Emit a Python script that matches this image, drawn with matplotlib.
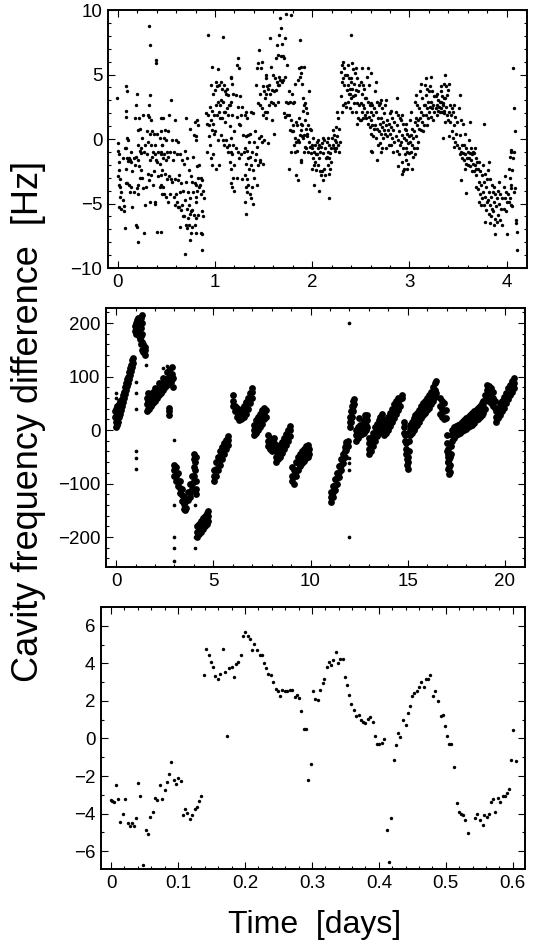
import numpy as np
import matplotlib
matplotlib.use("Agg")
import matplotlib.pyplot as plt
from matplotlib.ticker import MultipleLocator, FuncFormatter

# ---- top panel: 4 days, values in Hz ----
day4 = [
    (-0.01,3.2),(0.00,-0.3),(0.00,-0.9),(0.01,-1.2),(0.01,-1.8),(0.01,-2.4),(0.00,-2.9),(0.02,-3.1),(0.01,-3.6),(0.02,-3.7),(0.03,-4.1),(0.02,-4.5),(0.01,-5.3),(0.03,-5.4),
    (0.05,-4.7),(0.06,-5.2),(0.06,-5.6),(0.07,-6.9),(0.05,-1.5),(0.07,-0.7),
    (0.08,4.1),(0.10,3.7),(0.09,2.2),(0.08,1.7),(0.10,0.1),(0.11,-0.1),(0.09,-0.7),(0.10,-1.5),(0.11,-1.7),(0.09,-2.3),(0.08,-3.4),(0.10,-3.4),
    (0.12,-1.5),(0.13,-1.6),(0.14,-1.8),(0.15,-2.5),(0.12,-3.6),(0.14,-3.7),(0.13,-4.1),(0.15,-5.3),(0.14,-1.0),
    (0.20,3.5),(0.19,2.6),(0.18,1.6),(0.21,0.7),(0.17,-1.5),(0.19,-1.4),(0.21,-1.6),(0.18,-2.0),(0.20,-3.8),(0.17,-4.1),(0.21,-4.3),(0.19,-6.7),(0.20,-6.8),(0.21,-8.0),
    (0.22,1.6),(0.23,0.75),(0.21,-0.5),(0.24,-0.7),(0.23,-0.9),(0.22,-2.1),(0.24,-2.4),(0.23,-3.0),(0.21,-3.6),
    (0.26,1.9),(0.25,0.05),(0.28,-0.5),(0.27,-1.0),(0.25,-3.0),(0.29,-3.7),(0.26,-3.8),(0.28,-5.1),(0.27,-7.3),(0.24,-1.1),
    (0.32,8.8),(0.33,7.3),(0.33,3.4),(0.32,2.6),(0.31,1.9),(0.32,1.7),(0.34,1.5),(0.30,0.6),(0.33,0.4),(0.31,-0.2),(0.34,-0.5),(0.30,-1.2),(0.33,-1.6),(0.31,-2.7),(0.34,-2.8),(0.32,-3.2),(0.33,-4.9),
    (0.35,0.6),(0.37,0.4),(0.36,-1.0),(0.38,-1.2),(0.35,-1.4),(0.37,-2.5),(0.36,-3.6),(0.38,-5.0),
    (0.39,6.1),(0.39,5.9),(0.40,0.4),(0.38,-0.5),(0.41,-1.0),(0.39,-1.6),(0.40,-1.8),(0.41,-2.9),(0.38,-4.9),(0.40,-7.2),
    (0.44,1.6),(0.45,0.6),(0.43,0.05),(0.46,-0.5),(0.44,-1.0),(0.45,-1.2),(0.43,-1.9),(0.46,-2.4),(0.44,-2.8),(0.45,-3.6),(0.43,-3.7),(0.46,-4.3),(0.44,-7.2),
    (0.47,1.6),(0.49,0.7),(0.48,0.05),(0.50,-0.1),(0.46,-0.5),(0.51,-1.0),(0.48,-1.2),(0.47,-1.5),(0.50,-1.6),(0.49,-2.7),(0.51,-3.1),(0.47,-3.7),(0.48,-4.3),(0.50,-4.5),
    (0.55,3.0),(0.53,1.9),(0.52,0.6),(0.56,-0.1),(0.54,-1.0),(0.52,-1.4),(0.57,-1.6),(0.53,-2.9),(0.55,-3.1),(0.56,-3.3),(0.54,-4.3),(0.52,-4.9),
    (0.59,1.5),(0.60,-0.1),(0.62,-0.2),(0.58,-1.0),(0.61,-1.2),(0.59,-3.1),(0.62,-3.2),(0.60,-4.3),(0.58,-4.5),(0.61,-4.9),(0.59,-5.1),(0.62,-5.3),
    (0.64,-1.2),(0.66,-1.6),(0.63,-2.8),(0.65,-3.4),(0.67,-4.0),(0.64,-4.1),(0.66,-5.1),(0.63,-5.3),(0.65,-5.5),(0.67,-6.0),(0.64,-6.8),
    (0.70,1.6),(0.69,-0.9),(0.71,-1.5),(0.68,-1.9),(0.70,-3.3),(0.72,-4.1),(0.69,-4.7),(0.71,-5.4),(0.68,-6.0),(0.72,-6.1),(0.70,-6.7),(0.71,-6.9),(0.69,-8.9),
    (0.74,0.8),(0.73,-2.4),(0.75,-2.9),(0.76,-3.3),(0.74,-4.6),(0.73,-5.1),(0.76,-5.5),(0.75,-5.6),(0.74,-5.8),(0.73,-6.7),(0.76,-6.8),(0.75,-7.3),(0.74,-7.8),
    (0.79,1.3),(0.78,0.3),(0.80,-0.1),(0.77,-1.4),(0.79,-3.4),(0.81,-4.9),(0.78,-5.9),(0.80,-6.1),(0.79,-6.7),(0.80,-7.3),(0.81,-3.6),(0.77,-4.1),
    (0.82,1.5),(0.83,1.1),(0.81,0.2),(0.84,-2.0),(0.82,-2.1),(0.83,-3.0),(0.84,-3.7),(0.82,-4.0),(0.81,-4.5),(0.83,-5.9),
    (0.86,-3.0),(0.87,-3.2),(0.85,-3.6),(0.88,-4.0),(0.86,-4.3),(0.89,-4.6),(0.87,-5.6),(0.88,-6.0),(0.86,-7.3),(0.87,-7.4),(0.87,-8.6),
    (0.93,8.1),(0.91,2.0),(0.93,1.9),(0.92,1.2),(0.94,0.2),(0.92,-1.0),
    (0.97,5.6),(0.96,4.2),(0.98,3.5),(0.95,2.5),(0.97,2.2),(0.99,1.9),(0.96,1.5),(0.98,1.2),(0.94,1.1),(0.97,0.7),(0.99,0.4),(0.95,-0.5),(0.98,-1.2),(0.96,-1.5),(0.97,-2.0),
    (1.03,5.4),(1.01,4.4),(1.04,4.2),(1.02,4.1),(1.00,3.8),(1.03,2.9),(1.01,2.6),(1.04,2.1),(1.02,1.9),(1.05,1.6),(1.00,0.6),(1.03,-0.1),(1.01,-2.3),(1.04,-2.0),
    (1.08,7.9),(1.06,4.4),(1.09,4.2),(1.07,3.9),(1.10,3.7),(1.06,3.0),(1.08,2.9),(1.05,2.6),(1.09,2.1),(1.07,1.6),(1.10,1.3),(1.06,0.3),(1.08,-0.1),(1.09,-0.5),
    (1.12,3.9),(1.11,3.5),(1.13,3.4),(1.14,2.6),(1.12,2.4),(1.10,2.1),(1.13,1.9),(1.15,1.0),(1.11,-0.1),(1.14,-0.5),(1.12,-0.6),(1.13,-1.0),(1.15,-1.8),
    (1.17,4.8),(1.16,4.7),(1.18,4.3),(1.19,3.5),(1.17,2.9),(1.15,2.6),(1.18,1.9),(1.20,0.6),(1.16,0.05),(1.19,-0.5),(1.17,-1.0),(1.18,-1.2),(1.20,-2.0),(1.16,-2.3),(1.19,-3.0),(1.17,-3.4),(1.18,-3.7),(1.20,-4.0),
    (1.24,6.3),(1.23,5.7),(1.25,5.5),(1.22,3.4),(1.26,3.3),(1.24,2.5),(1.27,1.9),(1.23,1.7),(1.25,1.2),(1.26,1.1),(1.22,-0.7),(1.24,-1.0),(1.27,-1.2),(1.25,-1.5),(1.23,-3.0),
    (1.28,2.5),(1.29,0.3),(1.30,-1.0),(1.28,-3.1),
    (1.32,2.1),(1.31,1.9),(1.33,1.6),(1.34,0.3),(1.32,0.2),(1.35,-0.2),(1.31,-0.7),(1.33,-0.9),(1.34,-1.5),(1.32,-1.9),(1.35,-2.3),(1.31,-2.8),(1.33,-3.1),(1.34,-3.6),(1.32,-3.7),(1.33,-4.1),(1.31,-4.9),(1.32,-5.8),
    (1.37,2.1),(1.39,2.0),(1.36,0.4),(1.40,-0.2),(1.38,-1.0),(1.36,-1.4),(1.41,-1.6),(1.37,-2.0),(1.39,-2.4),(1.40,-3.0),(1.38,-3.7),(1.36,-4.3),(1.37,-4.6),(1.39,-5.0),
    (1.45,6.9),(1.44,5.9),(1.43,5.5),(1.42,4.2),(1.46,3.5),(1.44,2.8),(1.41,0.6),(1.45,0.05),(1.43,-0.6),(1.42,-1.2),(1.46,-1.8),(1.44,-2.0),(1.43,-3.6),
    (1.48,6.0),(1.47,5.5),(1.49,4.1),(1.50,3.7),(1.46,2.6),(1.48,2.4),(1.51,2.1),(1.49,1.9),(1.47,0.2),(1.50,-0.1),(1.48,-0.2),(1.46,-1.6),(1.49,-1.9),
    (1.53,5.0),(1.52,4.7),(1.54,4.1),(1.55,3.9),(1.53,3.5),(1.51,3.2),(1.56,2.6),(1.54,2.1),(1.52,1.6),(1.55,-0.3),
    (1.57,7.8),(1.58,5.6),(1.60,5.0),(1.56,4.2),(1.59,3.8),(1.61,3.7),(1.57,3.5),(1.58,2.9),(1.60,2.8),(1.59,1.5),(1.61,0.4),
    (1.63,6.3),(1.62,4.7),(1.64,4.4),(1.66,4.2),(1.63,3.8),(1.65,2.9),(1.62,2.6),(1.64,7.3),
    (1.67,9.4),(1.68,8.6),(1.66,8.1),(1.69,7.4),(1.65,6.5),(1.68,6.4),(1.66,4.8),(1.67,4.6),(1.69,4.4),(1.65,4.2),
    (1.73,9.7),(1.72,7.8),(1.70,6.4),(1.71,6.3),(1.74,5.7),(1.72,4.8),(1.70,4.6),(1.73,2.9),(1.75,2.8),(1.71,2.0),(1.74,1.9),(1.72,1.7),
    (1.78,9.6),(1.76,3.7),(1.79,3.5),(1.77,2.9),(1.80,2.8),(1.76,1.9),(1.78,1.5),(1.80,1.1),(1.77,0.7),(1.79,0.6),(1.78,-1.0),(1.76,-2.3),
    (1.82,4.3),(1.81,2.9),(1.83,1.3),(1.84,1.1),(1.80,0.6),(1.82,0.05),(1.85,-0.1),(1.83,-0.2),(1.81,-0.5),(1.84,-0.9),(1.82,-1.0),(1.83,-2.8),(1.85,-3.2),
    (1.87,7.7),(1.88,5.6),(1.86,5.5),(1.89,5.1),(1.87,4.8),(1.85,4.6),(1.90,4.3),(1.86,1.6),(1.88,1.2),(1.89,0.7),(1.87,0.3),(1.90,0.2),(1.86,-0.2),(1.88,-1.6),(1.89,-1.8),
    (1.92,5.6),(1.91,3.2),(1.93,2.8),(1.92,2.6),(1.94,2.4),(1.91,2.2),(1.95,2.0),(1.93,1.5),(1.90,1.1),(1.94,0.8),(1.92,0.3),(1.95,0.2),(1.91,0.05),(1.93,-0.6),(1.94,-0.7),(1.92,-1.0),
    (1.97,3.7),(1.96,1.1),(1.98,0.8),(1.99,0.7),(1.95,0.4),(1.97,-0.2),(2.00,-0.5),(1.98,-0.6),(1.96,-1.0),(1.99,-1.1),
    (2.01,0.05),(2.03,-0.5),(2.00,-0.7),(2.02,-1.0),(2.04,-1.2),(2.01,-1.5),(2.03,-1.8),(2.02,-2.0),(2.00,-2.3),(2.04,-2.4),(2.02,-3.6),
    (2.06,-0.1),(2.05,-0.2),(2.07,-0.5),(2.09,-0.6),(2.06,-0.7),(2.08,-1.0),(2.05,-1.2),(2.07,-1.5),(2.06,-2.0),(2.08,-2.5),(2.09,-2.8),(2.07,-4.0),
    (2.11,0.05),(2.12,-0.1),(2.10,-0.3),(2.13,-0.7),(2.11,-1.1),(2.14,-1.5),(2.12,-2.3),(2.10,-2.5),(2.13,-2.8),(2.11,-3.2),(2.17,-4.6),
    (2.16,0.05),(2.15,-0.2),(2.17,-0.5),(2.19,-0.7),(2.16,-1.0),(2.18,-1.1),(2.15,-1.4),(2.17,-1.5),(2.19,-1.8),(2.16,-2.0),(2.18,-2.3),(2.17,-2.7),
    (2.21,0.7),(2.22,0.3),(2.20,0.05),(2.23,-0.1),(2.24,-0.2),(2.21,-0.5),(2.22,-0.7),(2.23,-0.9),
    (2.26,2.1),(2.27,1.6),(2.25,0.96),(2.28,0.8),(2.26,0.2),(2.29,-0.2),(2.27,-0.5),(2.25,-0.7),(2.28,-1.0),
    (2.32,6.0),(2.31,5.7),(2.33,5.5),(2.30,5.2),(2.34,5.0),(2.32,4.7),(2.31,4.4),(2.33,4.2),(2.30,3.3),(2.34,2.8),(2.32,2.6),(2.35,2.5),(2.31,2.1),
    (2.37,5.7),(2.36,5.0),(2.38,4.7),(2.40,4.4),(2.37,4.2),(2.39,3.9),(2.36,3.8),(2.38,3.5),(2.40,3.2),(2.37,2.9),(2.39,2.4),
    (2.40,8.1),(2.41,5.9),(2.42,5.4),(2.40,4.7),(2.43,4.3),(2.41,3.9),(2.39,3.5),(2.42,3.3),(2.43,2.8),(2.41,2.1),
    (2.45,5.5),(2.44,5.1),(2.46,4.7),(2.48,4.2),(2.45,3.8),(2.47,3.7),(2.44,3.4),(2.46,2.8),(2.48,2.6),(2.45,2.1),(2.47,1.6),(2.49,1.5),(2.46,1.2),
    (2.51,5.5),(2.50,4.4),(2.52,4.2),(2.53,3.9),(2.51,3.5),(2.54,3.2),(2.50,2.8),(2.52,2.6),(2.53,2.4),(2.51,2.1),(2.54,1.9),(2.52,1.6),(2.50,1.5),
    (2.57,5.5),(2.56,4.8),(2.58,4.2),(2.55,3.2),(2.57,2.9),(2.59,2.6),(2.56,2.1),(2.58,1.7),(2.55,1.6),(2.57,1.2),(2.59,0.96),
    (2.61,5.1),(2.60,2.8),(2.62,2.6),(2.64,2.4),(2.61,2.1),(2.63,1.9),(2.60,1.5),(2.62,1.1),(2.64,0.8),(2.61,0.4),(2.63,0.2),(2.60,-0.9),(2.62,-1.0),
    (2.66,4.4),(2.65,3.7),(2.67,2.9),(2.69,2.6),(2.66,2.1),(2.68,1.6),(2.65,1.1),(2.67,0.8),(2.69,0.6),(2.66,0.05),(2.68,-0.5),(2.67,-1.6),
    (2.71,3.0),(2.70,2.8),(2.72,2.4),(2.74,2.0),(2.71,1.6),(2.73,1.3),(2.70,1.2),(2.72,0.96),(2.74,0.7),(2.71,0.4),(2.73,0.05),(2.70,-0.3),(2.72,-0.7),(2.71,-1.0),
    (2.76,3.0),(2.75,2.6),(2.77,1.5),(2.79,1.2),(2.76,1.1),(2.78,0.7),(2.75,0.4),(2.77,0.2),(2.79,-0.5),(2.76,-0.7),
    (2.81,2.2),(2.80,2.0),(2.82,1.6),(2.84,1.3),(2.81,0.96),(2.83,0.7),(2.80,0.4),(2.82,0.05),(2.84,-0.2),(2.81,-0.5),(2.83,-1.0),
    (2.87,3.2),(2.86,2.1),(2.88,1.9),(2.90,1.6),(2.87,1.1),(2.89,0.6),(2.86,0.2),(2.88,-0.1),(2.90,-0.5),(2.87,-0.9),(2.89,-1.2),(2.88,-2.1),
    (2.92,1.9),(2.91,1.5),(2.93,1.2),(2.95,0.8),(2.92,0.3),(2.94,0.05),(2.91,-0.2),(2.93,-0.7),(2.95,-1.2),(2.92,-1.8),(2.94,-2.3),(2.93,-2.5),(2.92,-2.7),
    (2.97,1.2),(2.96,0.7),(2.98,0.4),(3.00,0.2),(2.97,-0.1),(2.99,-0.3),(2.96,-0.7),(2.98,-1.0),(3.00,-1.1),(2.97,-1.6),(2.99,-1.9),(2.98,-2.3),
    (3.02,2.1),(3.01,1.5),(3.03,0.8),(3.05,0.6),(3.02,0.3),(3.04,0.05),(3.01,-0.2),(3.03,-0.5),(3.05,-0.7),(3.02,-1.0),(3.04,-1.4),(3.03,-2.3),
    (3.07,3.4),(3.06,2.9),(3.08,2.6),(3.10,2.4),(3.07,1.6),(3.09,1.5),(3.06,1.3),(3.08,1.1),(3.10,0.8),(3.07,0.2),(3.09,-0.2),(3.08,-0.7),(3.06,-1.2),
    (3.12,4.3),(3.11,3.7),(3.13,3.2),(3.15,2.6),(3.12,2.1),(3.14,1.9),(3.11,1.6),(3.13,1.3),(3.15,1.1),(3.12,0.7),(3.14,0.6),
    (3.17,4.7),(3.16,4.2),(3.18,3.9),(3.20,3.7),(3.17,3.4),(3.19,2.9),(3.16,2.6),(3.18,2.4),(3.20,2.1),(3.17,1.9),(3.19,1.6),(3.18,1.1),
    (3.22,4.8),(3.21,4.1),(3.23,3.7),(3.25,3.3),(3.22,2.9),(3.24,2.6),(3.21,2.5),(3.23,2.4),(3.25,2.1),(3.22,1.7),(3.24,1.5),
    (3.28,3.5),(3.27,3.3),(3.29,3.0),(3.31,2.9),(3.28,2.6),(3.30,2.5),(3.27,2.4),(3.29,2.2),(3.31,2.1),(3.28,1.9),
    (3.33,4.1),(3.32,3.7),(3.34,3.3),(3.36,3.2),(3.33,2.9),(3.35,2.6),(3.32,2.4),(3.34,2.1),(3.36,2.0),(3.35,0.05),
    (3.37,5.0),(3.36,4.3),(3.38,4.1),(3.39,3.4),(3.37,3.2),(3.35,2.8),(3.38,2.5),(3.36,2.2),(3.39,1.9),(3.37,1.3),
    (3.41,4.3),(3.40,3.8),(3.42,2.6),(3.44,2.4),(3.41,2.1),(3.43,1.9),(3.40,1.5),(3.42,1.3),(3.44,0.6),(3.41,0.2),
    (3.46,2.6),(3.45,2.1),(3.47,1.7),(3.49,1.3),(3.46,1.1),(3.48,0.4),(3.45,0.05),(3.47,-0.2),(3.49,-0.5),(3.46,-0.6),
    (3.52,3.4),(3.51,2.4),(3.53,1.5),(3.55,1.2),(3.52,0.3),(3.54,-0.5),(3.51,-0.7),(3.53,-1.0),(3.55,-1.1),(3.52,-1.2),(3.54,-1.5),(3.53,-3.2),
    (3.57,0.4),(3.56,-0.5),(3.58,-0.7),(3.60,-1.0),(3.57,-1.2),(3.59,-1.5),(3.56,-1.6),(3.58,-1.9),(3.60,-2.0),(3.57,-2.3),(3.58,-4.2),
    (3.62,1.3),(3.61,-0.1),(3.63,-0.7),(3.65,-1.0),(3.62,-1.1),(3.64,-1.2),(3.61,-1.5),(3.63,-1.6),(3.65,-1.9),(3.62,-2.1),(3.64,-2.5),
    (3.67,-0.7),(3.66,-1.1),(3.68,-1.5),(3.70,-1.8),(3.67,-2.0),(3.69,-2.3),(3.66,-2.5),(3.68,-2.8),(3.69,-3.7),
    (3.72,-1.8),(3.71,-2.3),(3.73,-2.5),(3.75,-2.8),(3.72,-3.3),(3.74,-3.6),(3.71,-3.9),(3.73,-4.3),(3.75,-4.6),(3.72,-4.9),(3.74,-5.1),
    (3.77,1.2),(3.76,-2.0),(3.78,-2.7),(3.80,-3.1),(3.77,-3.3),(3.79,-3.7),(3.76,-4.1),(3.78,-4.5),(3.80,-4.9),(3.77,-5.1),(3.79,-5.5),(3.78,-6.4),
    (3.82,-1.8),(3.81,-2.4),(3.83,-3.1),(3.85,-3.6),(3.82,-4.1),(3.84,-4.5),(3.81,-4.7),(3.83,-5.1),(3.85,-5.4),(3.82,-5.8),(3.84,-6.0),(3.83,-6.5),
    (3.87,-3.7),(3.86,-4.1),(3.88,-4.3),(3.90,-4.6),(3.87,-4.9),(3.89,-5.2),(3.86,-5.6),(3.88,-6.2),(3.90,-6.4),(3.87,-6.7),(3.88,-7.4),
    (3.92,-3.3),(3.91,-4.0),(3.93,-4.3),(3.95,-4.6),(3.92,-5.0),(3.94,-5.4),(3.91,-5.9),(3.93,-6.3),(3.95,-6.7),
    (3.98,-2.9),(3.97,-3.7),(3.99,-4.1),(4.01,-4.3),(3.98,-4.6),(4.00,-4.9),(3.97,-5.4),(3.99,-5.6),(4.00,-7.4),
    (4.05,-0.85),(4.04,-1.0),(4.03,-1.4),(4.02,-2.3),(4.03,-3.0),(4.04,-3.6),(4.05,-3.8),(4.03,-4.6),(4.02,-4.9),(4.04,-5.1),(4.06,-5.2),
    (4.07,5.5),(4.08,2.4),(4.09,0.6),(4.08,-1.0),(4.07,-1.5),(4.06,-2.4),(4.09,-3.8),(4.08,-4.1),(4.10,-6.3),(4.10,-6.5),(4.11,-7.2),(4.11,-8.6),
]

# ---- middle panel: 20 days; dense drift runs, each entry = (time, [values]) ----
day20_runs = [
    (-0.05,[25,35]),(0.0,[5,15,25,40]),(0.05,[10,20,30,45]),(0.1,[15,28,40]),(0.15,[25,35,48]),
    (0.2,[30,42,55]),(0.25,[38,50]),(0.3,[45,58]),(0.35,[52,65]),(0.4,[60,72]),(0.45,[68,80]),
    (0.5,[75,88]),(0.55,[82,95]),(0.6,[88,100]),(0.65,[95,108]),(0.7,[102,115]),(0.75,[110,122]),
    (0.8,[118,130]),(0.85,[125,135]),
    (0.95,[185,195]),(1.0,[180,190,200]),(1.05,[185,195,205]),(1.1,[190,200]),
    (1.15,[185,195,210]),(1.2,[175,190,200]),(1.25,[170,180,195]),(1.3,[160,175,190,210]),
    (1.35,[150,165,180,200,215]),(1.4,[145,160]),(1.5,[140,150,155]),
    (1.6,[35,48,60]),(1.65,[40,55,70]),(1.7,[40,52,65]),(1.8,[45,58]),(1.9,[50,62,72]),(2.0,[55,68,78]),
    (2.1,[60,72]),(2.2,[65,78,88]),(2.3,[70,82]),(2.4,[75,88,98]),(2.5,[80,92]),
    (2.6,[85,95,108]),(2.7,[88,100,112]),(2.72,[28,35,42]),(2.8,[90,102]),(2.85,[95,105,118]),(2.9,[80,98]),
    (3.0,[-65,-75,-85]),(3.1,[-70,-85,-95]),(3.2,[-80,-95,-105]),(3.3,[-95,-108,-118]),
    (3.4,[-110,-122,-132]),(3.5,[-125,-138,-148]),(3.55,[-135,-150]),(3.6,[-130,-145]),(3.7,[-115,-130]),
    (3.8,[-100,-115,-125]),(3.9,[-85,-100,-110]),(4.0,[-45,-55,-70,-85,-95]),(4.05,[-60,-75]),
    (4.1,[-50,-95,-110,-120]),
    (4.15,[-180,-190,-200]),(4.25,[-175,-185,-195]),(4.35,[-170,-180,-190]),(4.45,[-165,-175,-185]),
    (4.55,[-160,-170,-180]),(4.65,[-155,-165,-175]),(4.75,[-152,-160,-170]),
    (5.05,[-95,-85,-75]),(5.15,[-85,-72,-60]),(5.25,[-75,-62,-50]),(5.35,[-65,-52,-40]),
    (5.45,[-55,-42,-32]),(5.55,[-45,-35,-25]),(5.65,[-35,-25,-18]),(5.75,[-28,-18,-12]),
    (6.0,[45,55,65]),(6.1,[35,45]),(6.2,[25,35,42]),(6.3,[18,28,38]),(6.4,[20,30]),(6.5,[22,32,40]),
    (6.6,[25,35,45]),(6.7,[30,42,52]),(6.8,[40,52,60]),(6.9,[50,62,70]),(7.0,[60,72,78]),
    (7.1,[-10,0,10]),(7.2,[-5,8,18]),(7.3,[0,12,25]),(7.4,[5,18,30]),(7.5,[12,25,38]),(7.6,[20,32,42]),(7.7,[25,38]),
    (7.8,[-20,-30,-10]),(7.9,[-25,-15,-35]),(8.0,[-30,-20,-40]),(8.1,[-35,-25,-15]),(8.2,[-40,-28]),
    (8.25,[-60,-50,-40]),(8.35,[-55,-45,-35]),(8.45,[-50,-40,-28]),(8.55,[-42,-32,-22]),
    (8.65,[-35,-25,-15]),(8.75,[-28,-18,-8]),(8.85,[-20,-10,0]),(8.95,[-12,0,8]),
    (9.05,[-70,-85,-95]),(9.15,[-75,-85,-100]),(9.25,[-60,-75,-85]),(9.35,[-50,-62,-75]),
    (9.45,[-45,-58,-68]),(9.55,[-40,-52,-62]),(9.65,[-35,-45,-58]),(9.75,[-30,-42,-52]),
    (9.85,[-28,-38,-50]),(9.92,[-35,-45]),
    (11.05,[-135,-125,-115]),(11.15,[-125,-115,-105]),(11.25,[-112,-102,-92]),(11.35,[-100,-90,-80]),
    (11.45,[-88,-78,-68]),(11.55,[-75,-65,-55]),(11.65,[-62,-52,-45]),(11.75,[-50,-40,-32]),
    (11.85,[-38,-28,-22]),(11.95,[-30,-20]),
    (12.05,[5,15,25]),(12.1,[15,25,35]),(12.15,[25,35,45]),(12.2,[35,45,55]),(12.25,[48,58]),
    (12.35,[-20,-10,0]),(12.45,[-15,-5,5]),(12.5,[22]),(12.55,[-10,0,10]),(12.65,[-8,2,12]),
    (12.75,[-5,5,18]),(12.8,[28]),(12.85,[0,10,22]),(12.9,[5,18,28]),
    (13.0,[-45,-35,-25,-15]),(13.1,[-40,-28,-15]),(13.2,[-30,-18,-5]),(13.3,[-20,-8,5]),
    (13.4,[-12,0,12]),(13.5,[-5,8,18]),(13.6,[0,12,25]),(13.7,[8,20,30]),
    (13.8,[-10,0,10]),(13.9,[-5,5,18]),(14.0,[0,12,25]),(14.1,[8,20,32]),(14.2,[15,28,40]),
    (14.3,[22,35,48]),(14.4,[30,42,55]),(14.5,[38,50,60]),(14.6,[45,58]),(14.7,[60,65]),
    (14.8,[15,5,-5]),(14.85,[-10,-20]),(14.9,[-25,-35,-45]),(14.95,[-40,-55,-65]),(15.0,[-50,-60,-72]),
    (15.05,[-40,-20,-5]),(15.1,[-10,0,10]),(15.2,[-5,5,15]),(15.3,[0,10,22]),(15.4,[5,15,28]),
    (15.5,[10,22,32]),(15.6,[15,28,38]),(15.7,[22,32,45]),(15.8,[28,38,50]),(15.9,[32,45,55]),
    (16.0,[38,50,60]),(16.1,[42,55,65]),(16.2,[48,60,72]),(16.3,[55,68,80]),(16.4,[62,75,88]),(16.45,[70,92]),
    (16.65,[30,45,60]),(16.75,[25,40,55]),(16.85,[20,35,50]),(16.95,[22,38]),
    (17.0,[-10,-25,-40]),(17.05,[-35,-50,-60]),(17.1,[-45,-60,-72]),(17.15,[-55,-70,-82]),
    (17.2,[-50,-65,-78]),(17.25,[-30,-45]),(17.3,[-20,-10,0]),(17.4,[-15,-5,5]),(17.5,[-10,0,8]),
    (17.6,[-8,2,10]),(17.7,[-5,5,12]),(17.8,[-2,8,15]),(17.9,[0,10,18]),(18.0,[2,12,22]),
    (18.1,[5,15,25]),(18.2,[8,18,28]),(18.3,[10,22,32]),(18.4,[14,25,35]),(18.5,[18,28,38]),
    (18.6,[20,32,42]),(18.7,[25,35,45]),(18.8,[28,40,50]),(18.9,[32,45,55]),(19.0,[40,55,65]),
    (19.1,[60,75,85]),(19.2,[55,70,82]),(19.3,[50,65,78]),(19.4,[45,60,72]),(19.5,[42,55]),
    (19.55,[15,25,35]),(19.65,[22,32,42]),(19.75,[28,38,50]),(19.85,[35,45,55]),(19.95,[42,52,62]),
    (20.05,[50,60,70]),(20.15,[58,68,78]),(20.25,[65,75,85]),(20.35,[72,82,92]),(20.45,[78,88,98]),
]

# isolated readings in the middle panel
day20_single = [
    (0.0,60),(0.0,70),(1.0,90),(1.0,70),(1.0,40),(1.0,-40),(1.0,-52),(1.0,-73),(1.55,122),
    (2.4,115),(2.6,120),(2.97,-18),(2.97,-140),(2.97,-200),(2.97,-220),(2.97,-245),
    (4.05,-140),(4.05,-199),(4.05,-220),(12.0,200),(12.0,-200),(12.0,-52),(12.0,-62),(12.0,-74),
]

# ---- bottom panel: 0.6 days ----
day06 = [
    (0.000,-3.30),(0.002,-3.35),(0.004,-3.40),(0.007,-2.50),(0.010,-3.25),(0.014,-4.43),(0.018,-4.00),
    (0.021,-3.20),(0.025,-4.50),(0.028,-4.65),(0.032,-4.50),(0.035,-4.65),(0.038,-4.25),(0.041,-2.38),
    (0.044,-3.05),(0.048,-6.74),(0.052,-4.87),(0.055,-5.08),(0.058,-4.20),(0.062,-3.90),(0.066,-3.15),
    (0.069,-3.30),(0.073,-2.47),(0.076,-3.20),(0.080,-2.75),(0.083,-2.33),(0.087,-1.90),(0.090,-1.23),
    (0.094,-2.19),(0.097,-2.42),(0.100,-2.10),(0.104,-2.24),(0.108,-4.09),(0.111,-3.77),(0.114,-3.95),
    (0.118,-4.27),(0.121,-4.07),(0.125,-3.75),(0.128,-3.66),(0.131,-3.32),(0.135,-3.09),
    (0.139,3.40),(0.142,4.76),(0.146,4.44),(0.149,4.05),(0.153,3.82),(0.156,3.31),(0.159,3.18),
    (0.163,3.45),(0.167,4.75),(0.170,3.52),(0.173,0.14),(0.176,3.75),(0.180,3.80),(0.183,3.27),
    (0.187,3.96),(0.190,4.05),(0.194,4.46),(0.197,5.44),(0.200,5.67),(0.204,5.48),(0.208,5.30),
    (0.211,4.71),(0.214,5.03),(0.218,4.73),(0.222,4.46),(0.225,4.44),(0.228,4.02),(0.232,3.75),
    (0.235,3.43),(0.239,3.38),(0.242,2.99),(0.246,2.65),(0.249,2.54),(0.253,2.24),(0.256,2.58),
    (0.260,2.50),(0.263,2.55),(0.267,2.56),(0.270,2.56),(0.274,2.22),(0.277,2.31),(0.281,2.17),
    (0.284,1.44),(0.288,0.50),(0.291,0.50),(0.294,-2.22),(0.298,-1.35),(0.301,2.51),(0.305,2.10),
    (0.309,2.03),(0.312,2.60),(0.316,2.95),(0.318,3.16),(0.322,3.80),(0.325,4.09),(0.328,3.91),
    (0.332,4.18),(0.336,4.59),(0.339,4.00),(0.342,4.25),(0.346,4.25),(0.349,3.27),(0.353,2.86),
    (0.356,2.33),(0.359,1.85),(0.363,1.53),(0.366,1.17),(0.370,1.24),(0.373,1.00),(0.377,0.89),
    (0.380,0.84),(0.384,1.05),(0.387,1.12),(0.391,0.87),(0.394,0.14),(0.397,-0.28),(0.400,-0.27),
    (0.404,-0.23),(0.408,-0.02),(0.412,-4.85),(0.415,-6.56),(0.418,-4.23),(0.422,-1.14),(0.426,-0.37),
    (0.429,0.27),(0.432,0.10),(0.436,0.98),(0.440,0.69),(0.443,1.37),(0.446,1.71),(0.449,2.24),
    (0.453,2.44),(0.457,2.51),(0.460,2.72),(0.463,2.99),(0.467,2.76),(0.470,3.15),(0.474,3.15),
    (0.477,3.36),(0.481,2.28),(0.484,2.51),(0.488,2.01),(0.492,1.19),(0.495,1.23),(0.498,0.68),
    (0.502,0.12),(0.505,-0.30),(0.508,-0.30),(0.512,-1.53),(0.516,-3.43),(0.519,-3.89),(0.522,-4.02),
    (0.526,-4.07),(0.529,-4.36),(0.533,-5.03),(0.544,-4.23),(0.547,-4.02),(0.551,-4.34),(0.555,-4.62),
    (0.557,-4.09),(0.561,-4.16),(0.564,-4.02),(0.568,-3.38),(0.571,-3.25),(0.574,-3.89),(0.578,-3.15),
    (0.581,-3.36),(0.585,-3.06),(0.588,-3.06),(0.591,-2.92),(0.595,-2.68),(0.598,-1.17),(0.601,0.46),
    (0.605,-1.21),
]


def style(ax, xmaj, xmin, ymaj, ymin):
    ax.xaxis.set_major_locator(MultipleLocator(xmaj))
    ax.xaxis.set_minor_locator(MultipleLocator(xmin))
    ax.yaxis.set_major_locator(MultipleLocator(ymaj))
    ax.yaxis.set_minor_locator(MultipleLocator(ymin))
    ax.tick_params(which="both", direction="in", top=True, right=True,
                   labelsize=13.5, width=0.8, pad=4)
    ax.tick_params(which="major", length=5)
    ax.tick_params(which="minor", length=2.5)
    for s in ax.spines.values():
        s.set_linewidth(1.4)


def main():
    plt.rcParams["font.family"] = ["Liberation Sans", "DejaVu Sans"]
    fig = plt.figure(figsize=(5.4, 9.46), dpi=100)

    ax1 = fig.add_axes([0.200, 0.7167, 0.776, 0.2727])
    t1, f1 = zip(*day4)
    ax1.scatter(t1, f1, s=6, c="black", linewidths=0)
    ax1.set_xlim(-0.1, 4.21)
    ax1.set_ylim(-10, 10)
    style(ax1, 1, 0.2, 5, 1)

    ax2 = fig.add_axes([0.196, 0.4006, 0.776, 0.2738])
    t2 = [t for t, vals in day20_runs for v in vals]
    f2 = [v for t, vals in day20_runs for v in vals]
    ax2.scatter(t2, f2, s=24, c="black", linewidths=0)
    ts, fs = zip(*day20_single)
    ax2.scatter(ts, fs, s=7, c="black", linewidths=0)
    ax2.set_xlim(-0.53, 21.03)
    ax2.set_ylim(-256, 228)
    style(ax2, 5, 1, 100, 20)

    ax3 = fig.add_axes([0.187, 0.0814, 0.785, 0.2770])
    t3, f3 = zip(*day06)
    ax3.scatter(t3, f3, s=6, c="black", linewidths=0)
    ax3.set_xlim(-0.015, 0.618)
    ax3.set_ylim(-6.95, 7.0)
    style(ax3, 0.1, 0.02, 2, 1)
    ax3.xaxis.set_major_formatter(FuncFormatter(lambda v, p: "0" if abs(v) < 1e-9 else f"{v:.1f}"))

    fig.text(0.052, 0.554, "Cavity frequency difference  [Hz]", rotation=90,
             ha="center", va="center", fontsize=26)
    fig.text(0.583, 0.022, "Time  [days]", ha="center", va="center", fontsize=23)

    fig.savefig("out.png", dpi=100)


if __name__ == "__main__":
    main()
